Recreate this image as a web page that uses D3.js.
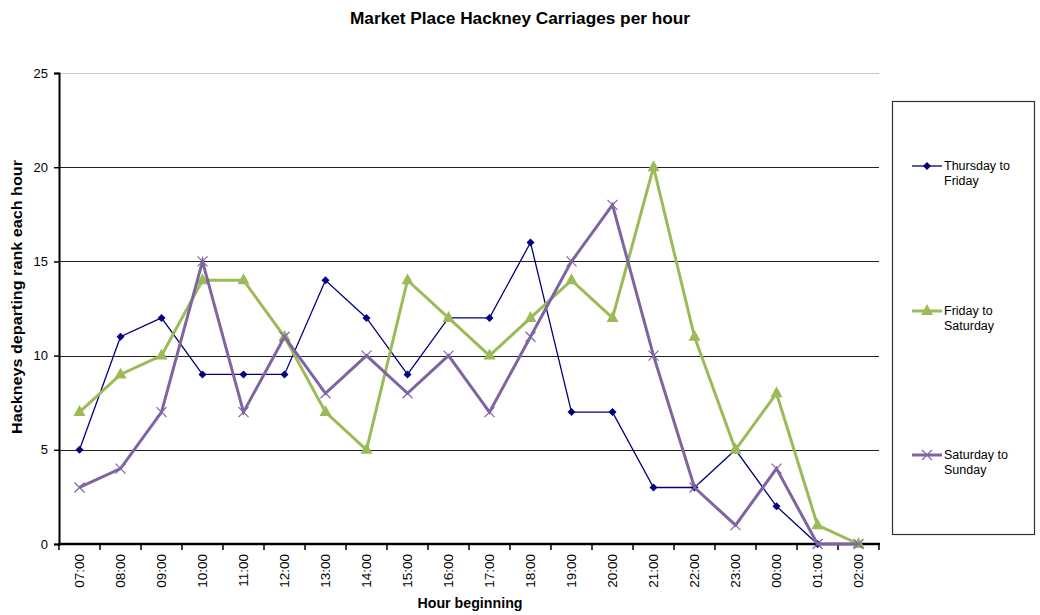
<!DOCTYPE html>
<html>
<head>
<meta charset="utf-8">
<script src="https://cdn.jsdelivr.net/npm/d3@7"></script>
<style>
  body { margin: 0; background: #fff; }
  svg { font-family: "Liberation Sans", Arial, sans-serif; }
</style>
</head>
<body>
<svg id="chart" width="1040" height="615"></svg>
<script>
const hours = ["07:00","08:00","09:00","10:00","11:00","12:00","13:00","14:00","15:00","16:00",
               "17:00","18:00","19:00","20:00","21:00","22:00","23:00","00:00","01:00","02:00"];
const thuFri = [5, 11, 12, 9, 9, 9, 14, 12, 9, 12, 12, 16, 7, 7, 3, 3, 5, 2, 0, 0];
const friSat = [7, 9, 10, 14, 14, 11, 7, 5, 14, 12, 10, 12, 14, 12, 20, 11, 5, 8, 1, 0];
const satSun = [3, 4, 7, 15, 7, 11, 8, 10, 8, 10, 7, 11, 15, 18, 10, 3, 1, 4, 0, 0];
const yTicks = [0, 5, 10, 15, 20, 25];

const series = [
  { name: ["Thursday to", "Friday"], values: thuFri, color: "#000080", width: 1.3, marker: "diamond" },
  { name: ["Friday to", "Saturday"], values: friSat, color: "#9BBB59", width: 3, marker: "triangle" },
  { name: ["Saturday to", "Sunday"], values: satSun, color: "#8064A2", width: 3, marker: "cross" }
];

const svg = d3.select("#chart");
const plotLeft = 59, plotRight = 879, plotTop = 73, plotBottom = 544;

const x = d3.scaleBand().domain(hours).range([plotLeft, plotRight]);
const y = d3.scaleLinear().domain([0, 25]).range([plotBottom, plotTop]);

// Title
svg.append("text").attr("x", 520).attr("y", 24).attr("text-anchor", "middle")
  .attr("font-size", 16).attr("font-weight", "bold")
  .attr("textLength", 340).attr("lengthAdjust", "spacingAndGlyphs")
  .text("Market Place Hackney Carriages per hour");

// Horizontal gridlines
svg.append("g").selectAll("line").data(yTicks.filter(d => d > 0)).join("line")
  .attr("x1", plotLeft).attr("x2", plotRight)
  .attr("y1", d => Math.round(y(d)) + 0.5).attr("y2", d => Math.round(y(d)) + 0.5)
  .attr("stroke", d => d === 25 ? "#c8c8c8" : "#222").attr("stroke-width", 1);

// Y axis
const yAxis = svg.append("g").attr("transform", `translate(${plotLeft},0)`)
  .call(d3.axisLeft(y).tickValues(yTicks).tickSize(5).tickPadding(6));
yAxis.select(".domain").attr("stroke", "#000").attr("stroke-width", 2);
yAxis.selectAll(".tick line").attr("stroke", "#000").attr("stroke-width", 1.5);
yAxis.selectAll(".tick text").attr("font-size", 13).attr("font-family", "Liberation Sans, Arial, sans-serif").attr("fill", "#000");

// X axis with ticks between categories
const xAxis = svg.append("g").attr("transform", `translate(0,${plotBottom})`);
xAxis.append("line").attr("x1", plotLeft - 1).attr("x2", plotRight + 1).attr("y1", 0).attr("y2", 0)
  .attr("stroke", "#000").attr("stroke-width", 2.5);
const boundaries = hours.map(h => x(h)).concat([x(hours[hours.length - 1]) + x.bandwidth()]);
xAxis.selectAll("line.tk").data(boundaries).join("line").attr("class", "tk")
  .attr("x1", d => d).attr("x2", d => d).attr("y1", 0).attr("y2", 6)
  .attr("stroke", "#000").attr("stroke-width", 1.5);
xAxis.selectAll("text").data(hours).join("text")
  .attr("transform", d => `translate(${x(d) + x.bandwidth() / 2 + 4.5},${10}) rotate(-90)`)
  .attr("text-anchor", "end").attr("font-size", 13.5).text(d => d);

// Axis titles
svg.append("text").attr("x", 470).attr("y", 608).attr("text-anchor", "middle")
  .attr("font-size", 14).attr("font-weight", "bold")
  .attr("textLength", 105).attr("lengthAdjust", "spacingAndGlyphs").text("Hour beginning");
svg.append("text").attr("transform", `translate(22,297) rotate(-90)`)
  .attr("text-anchor", "middle").attr("font-size", 14).attr("font-weight", "bold")
  .attr("textLength", 274).attr("lengthAdjust", "spacingAndGlyphs")
  .text("Hackneys departing rank each hour");

// Lines and markers
const cx = d => x(d) + x.bandwidth() / 2;
const line = d3.line().x((v, i) => cx(hours[i])).y(v => y(v));

function drawMarker(g, type, color, px, py) {
  if (type === "diamond") {
    g.append("path").attr("d", `M${px},${py - 4}L${px + 4},${py}L${px},${py + 4}L${px - 4},${py}Z`).attr("fill", color);
  } else if (type === "triangle") {
    g.append("path").attr("d", `M${px},${py - 7}L${px + 6},${py + 4}L${px - 6},${py + 4}Z`).attr("fill", color);
  } else {
    g.append("path").attr("d", `M${px - 5},${py - 5}L${px + 5},${py + 5}M${px - 5},${py + 5}L${px + 5},${py - 5}`)
      .attr("stroke", color).attr("stroke-width", 1.2).attr("fill", "none");
  }
}

const plot = svg.append("g");
series.forEach(s => {
  plot.append("path").datum(s.values).attr("d", line)
    .attr("fill", "none").attr("stroke", s.color).attr("stroke-width", s.width).attr("stroke-linejoin", "miter");
  const mg = plot.append("g");
  s.values.forEach((v, i) => drawMarker(mg, s.marker, s.color, cx(hours[i]), y(v)));
});

// Legend
const legend = svg.append("g");
legend.append("rect").attr("x", 892.5).attr("y", 101.5).attr("width", 142).attr("height", 433)
  .attr("fill", "#fff").attr("stroke", "#333").attr("stroke-width", 1.2);
const legendY = [166, 311, 455];
series.forEach((s, i) => {
  const ly = legendY[i];
  legend.append("line").attr("x1", 912).attr("x2", 942).attr("y1", ly).attr("y2", ly)
    .attr("stroke", s.color).attr("stroke-width", s.width);
  drawMarker(legend, s.marker, s.color, 927, ly);
  const t = legend.append("text").attr("x", 944).attr("y", ly + 4).attr("font-size", 12.5);
  s.name.forEach((n, j) => t.append("tspan").attr("x", 944).attr("dy", j === 0 ? 0 : 15).text(n));
});
</script>
</body>
</html>
